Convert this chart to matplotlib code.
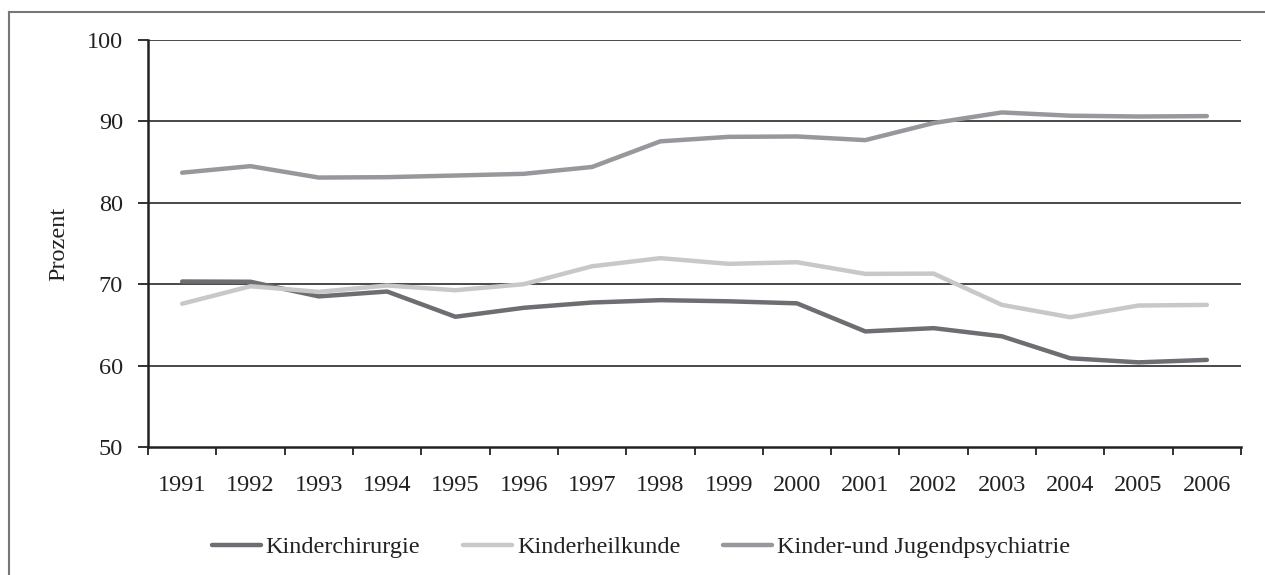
import matplotlib
matplotlib.use("Agg")
import matplotlib.pyplot as plt
from matplotlib.lines import Line2D

years = [str(y) for y in range(1991, 2007)]
chirurgie = [70.33, 70.3, 68.5, 69.1, 66.0, 67.1, 67.75, 68.04, 67.9, 67.65, 64.2, 64.6, 63.6, 60.9, 60.4, 60.7]
heilkunde = [67.6, 69.75, 69.06, 69.84, 69.26, 70.0, 72.2, 73.2, 72.5, 72.7, 71.27, 71.3, 67.46, 65.94, 67.38, 67.46]
psychiatrie = [83.7, 84.5, 83.1, 83.15, 83.35, 83.56, 84.4, 87.55, 88.1, 88.15, 87.7, 89.8, 91.1, 90.7, 90.6, 90.65]
series_names = ["Kinderchirurgie", "Kinderheilkunde", "Kinder-und Jugendpsychiatrie"]
yticks = [50, 60, 70, 80, 90, 100]

plt.rcParams['font.family'] = ['Liberation Serif', 'DejaVu Serif']

W, H = 1265, 575
fs = 17.5
fig = plt.figure(figsize=(W / 100, H / 100), dpi=100)
ax = fig.add_axes([148 / W, 1 - 447 / H, (1241 - 148) / W, (447 - 40) / H])

colors = ["#6d6d72", "#c8c8c8", "#98989c"]
x = list(range(len(years)))
for vals, c, name in zip([chirurgie, heilkunde, psychiatrie], colors, series_names):
    ax.plot(x, vals, color=c, lw=3.2, solid_capstyle='round', solid_joinstyle='round', label=name, zorder=3)

ax.set_xlim(-0.5, len(years) - 0.5)
ax.set_ylim(50, 100)
ax.set_yticks(yticks)
ax.set_yticklabels([str(t) for t in yticks], fontsize=fs, color="#222222")
ax.set_xticks(x)
ax.set_xticklabels(years, fontsize=fs, color="#222222")
ax.set_xticks([i - 0.5 for i in range(len(years) + 1)], minor=True)
ax.tick_params(axis='x', which='major', length=0, pad=20)
ax.tick_params(axis='x', which='minor', length=6, width=1.3, color="#222222", direction='out')
ax.tick_params(axis='y', length=7, width=1.3, color="#222222", direction='out', pad=11)
for yv in yticks[1:]:
    ax.axhline(yv, color="#2a2a2a", lw=1.2, zorder=1)

for s in ['top', 'right']:
    ax.spines[s].set_visible(False)
for s in ['left', 'bottom']:
    ax.spines[s].set_color("#222222")
    ax.spines[s].set_linewidth(1.8)

ax.set_ylabel("Prozent", fontsize=fs, color="#222222", labelpad=13)

handles = [Line2D([0], [0], color=c, lw=3.2, solid_capstyle='round') for c in colors]
fig.legend(handles, series_names, loc='center', bbox_to_anchor=(641 / W, 1 - 547 / H),
           ncol=3, frameon=False, fontsize=fs, handlelength=2.0, handletextpad=0.2,
           columnspacing=1.77, labelcolor="#222222")

# outer chart frame
fig.add_artist(Line2D([9 / W, 9 / W], [0, 1 - 12 / H], transform=fig.transFigure, color="#777777", lw=1.5))
fig.add_artist(Line2D([9 / W, 1], [1 - 12 / H, 1 - 12 / H], transform=fig.transFigure, color="#777777", lw=1.5))

fig.savefig("out.png", dpi=100)
